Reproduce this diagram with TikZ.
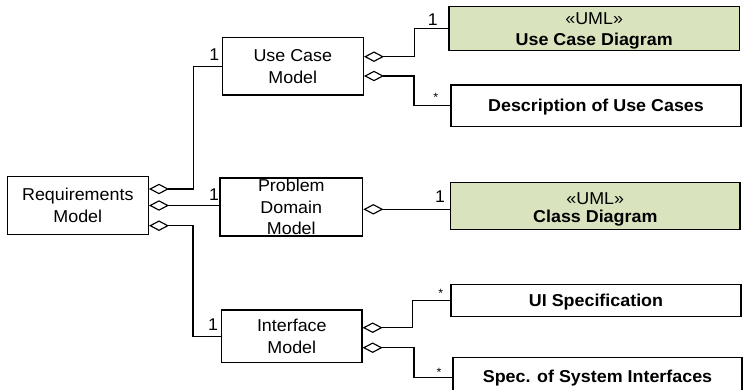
\documentclass[tikz,border=0pt]{standalone}
\usepackage{fontspec}
\setmainfont{Liberation Sans}[FakeStretch=1.04]
\usetikzlibrary{arrows.meta}
\definecolor{umlgreen}{HTML}{D9E4BE}
\tikzset{
  box/.style={draw, line width=1.4pt, inner sep=0pt, align=center,
    font=\fontsize{17.2}{21.8}\selectfont},
  artifact/.style={box, font=\fontsize{17.2}{21}\selectfont\bfseries},
  capcentred/.style={text height=12.4pt, text depth=0pt},
  uml/.style={artifact, fill=umlgreen},
  umltext/.style={inner sep=0pt, align=center, font=\fontsize{17.2}{21}\selectfont\bfseries},
  agg/.style={line width=1.15pt, {Diamond[open,length=20pt,width=10.5pt]}-},
  mult/.style={inner sep=0pt, font=\fontsize{17}{20}\selectfont},
  many/.style={inner sep=0pt, font=\fontsize{12}{14}\selectfont},
}
\begin{document}
\begin{tikzpicture}[x=1pt,y=-1pt]
\useasboundingbox (0,0) rectangle (743,390);
\fill[white] (0,0) rectangle (743,390);
\clip (0,0) rectangle (743,390);

% models
\node[box, minimum width=141pt, minimum height=57.6pt] (req) at (77.8,205.5)
  {Requirements\\Model};
\node[box, minimum width=141pt, minimum height=57.7pt] (ucm) at (292.8,66.2)
  {Use Case\\Model};
\node[box, minimum width=142.7pt, minimum height=58pt] (pdm) at (291.3,207)
  {Problem\\Domain\\Model};
\node[box, minimum width=140.3pt, minimum height=52.7pt] (ifm) at (291.8,336.3)
  {Interface\\Model};

% artifacts
\node[uml, minimum width=290.3pt, minimum height=44pt] (ucd) at (594.2,28.7) {};
\node[umltext] (ucdtext) at ([yshift=-2.5pt]ucd.center)
  {\mdseries\guillemotleft UML\guillemotright\\Use Case Diagram};
\node[artifact, capcentred, minimum width=290pt, minimum height=41.7pt] (duc) at (596,105.8)
  {Description of Use Cases};
\node[uml, minimum width=289.3pt, minimum height=46.6pt] (cd) at (595.3,206) {};
\node[umltext] (cdtext) at ([yshift=-3pt]cd.center)
  {\mdseries\guillemotleft UML\guillemotright\\[-3pt]Class Diagram};
\node[artifact, capcentred, minimum width=290pt, minimum height=32.4pt] (uis) at (596,300.5)
  {UI Specification};
\node[artifact, minimum width=289pt, minimum height=41pt] (ssi) at (597.5,377.7)
  {Spec. of System Interfaces};

% aggregations of the requirements model
\draw[agg] ([yshift=16.5pt]req.east) -- ++(44.4,0) |- (ucm.west);
\draw[agg] (req.east) -- (req.east -| pdm.west);
\draw[agg] ([yshift=-20.2pt]req.east) -- ++(44,0) |- (ifm.west);

% aggregations of the use case model
\draw[agg] ([yshift=9.5pt]ucm.east) -- ++(50.7,0) |- (ucd.west);
\draw[agg] ([yshift=-9.8pt]ucm.east) -- ++(50,0) |- (duc.west);

% aggregation of the problem domain model
\draw[agg] ([yshift=-2.3pt]pdm.east) -- ([yshift=-2.3pt]pdm.east -| cd.west);

% aggregations of the interface model
\draw[agg] ([yshift=8.6pt]ifm.east) -- ++(50,0) |- (uis.west);
\draw[agg] ([yshift=-11.4pt]ifm.east) -- ++(51.3,0) |- (ssi.west);

% multiplicities
\node[mult] (m1) at (214.3,55) {1};
\node[mult] (m2) at (214,194.3) {1};
\node[mult] (m3) at (213,325) {1};
\node[mult] (m4) at (432.7,20) {1};
\node[many] (m5) at (435.7,97.5) {*};
\node[mult] (m6) at (440,197) {1};
\node[many] (m7) at (440.7,293.5) {*};
\node[many] (m8) at (439,372.5) {*};
\end{tikzpicture}
\end{document}
